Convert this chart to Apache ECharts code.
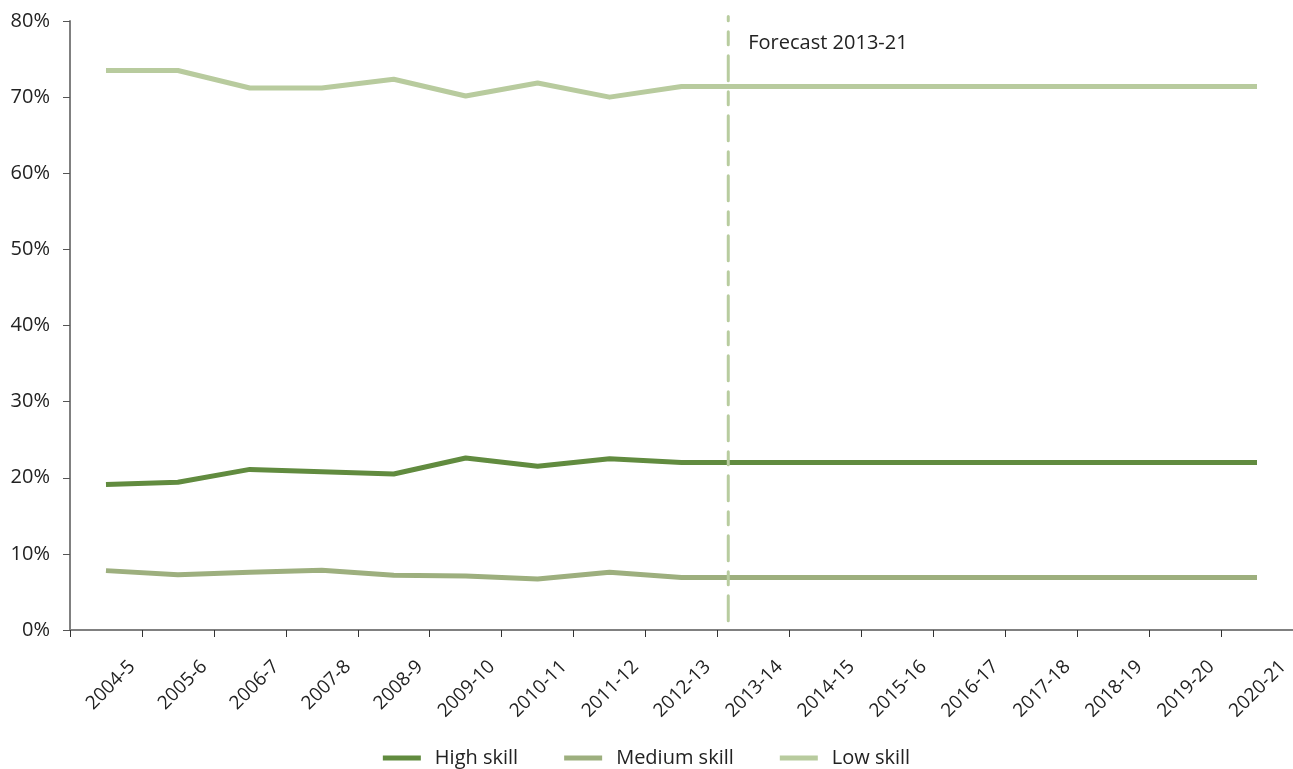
<!DOCTYPE html>
<html>
<head>
<meta charset="utf-8">
<script src="https://cdn.jsdelivr.net/npm/echarts@6/dist/echarts.min.js"></script>
<style>
  html, body { margin: 0; padding: 0; background: #ffffff; }
  #chart { width: 1293px; height: 769px; }
</style>
</head>
<body>
<div id="chart"></div>
<script>
// Share of employment by skill level, actuals to 2012-13 then forecast
const categories = ['2004-5', '2005-6', '2006-7', '2007-8', '2008-9', '2009-10', '2010-11', '2011-12',
  '2012-13', '2013-14', '2014-15', '2015-16', '2016-17', '2017-18', '2018-19', '2019-20', '2020-21'];
const highSkill = [19.1, 19.4, 21.1, 20.8, 20.5, 22.6, 21.5, 22.5,
  22.0, 22.0, 22.0, 22.0, 22.0, 22.0, 22.0, 22.0, 22.0];
const mediumSkill = [7.8, 7.25, 7.6, 7.85, 7.2, 7.1, 6.7, 7.6,
  6.9, 6.9, 6.9, 6.9, 6.9, 6.9, 6.9, 6.9, 6.9];
const lowSkill = [73.5, 73.5, 71.2, 71.2, 72.35, 70.15, 71.85, 70.0,
  71.4, 71.4, 71.4, 71.4, 71.4, 71.4, 71.4, 71.4, 71.4];
const yTicks = [0, 10, 20, 30, 40, 50, 60, 70, 80];
const seriesNames = ['High skill', 'Medium skill', 'Low skill'];

// Forecast marker: position in category units and its vertical span (%)
const forecastAt = 8.65;
const forecastSpan = [1.2, 80.6];
const forecastText = 'Forecast 2013-21';

const FONT = '"Open Sans", "Noto Sans", sans-serif';
const COLORS = { high: '#618b3f', medium: '#9daf7e', low: '#b8cb9e', marker: '#b8cc9f' };

const chart = echarts.init(document.getElementById('chart'), null, { renderer: 'canvas' });

const lineSeries = (name, data, color) => ({
  name, type: 'line', data,
  xAxisIndex: 0, yAxisIndex: 0,
  symbol: 'none', smooth: false,
  lineStyle: { color, width: 5, cap: 'butt', join: 'round' },
  itemStyle: { color },
  z: 3, silent: true
});

chart.setOption({
  animation: false,
  backgroundColor: '#ffffff',
  textStyle: { fontFamily: FONT },
  grid: { left: 70, right: 0, top: 21, bottom: 139, containLabel: false },
  legend: {
    data: seriesNames,
    left: 'center', top: 743,
    icon: 'rect', itemWidth: 38, itemHeight: 5, itemGap: 46,
    textStyle: { fontFamily: FONT, fontSize: 20, color: '#222222', padding: [0, 0, 0, 9] },
    selectedMode: false
  },
  xAxis: [{
    type: 'category',
    data: categories,
    boundaryGap: true,
    axisLine: { show: true, onZero: false, lineStyle: { color: '#808080', width: 2 } },
    axisTick: { show: true, length: 7, interval: 0, lineStyle: { color: '#333333', width: 1 } },
    axisLabel: {
      interval: 0, rotate: 45, margin: 60,
      padding: [0, -37, 0, 0],
      fontFamily: FONT, fontSize: 19, color: '#222222'
    },
    splitLine: { show: false }
  }, {
    // hidden value axis in category units, for the forecast marker
    type: 'value', show: false,
    min: -0.5, max: categories.length - 0.5
  }],
  yAxis: [{
    type: 'value',
    min: yTicks[0], max: yTicks[yTicks.length - 1], interval: 10,
    axisLine: { show: true, onZero: false, lineStyle: { color: '#808080', width: 2 } },
    axisTick: { show: true, length: 7, lineStyle: { color: '#555555', width: 1 } },
    axisLabel: { margin: 20, fontFamily: FONT, fontSize: 20, color: '#222222', formatter: '{value}%' },
    splitLine: { show: false }
  }],
  series: [
    lineSeries(seriesNames[2], lowSkill, COLORS.low),
    lineSeries(seriesNames[0], highSkill, COLORS.high),
    lineSeries(seriesNames[1], mediumSkill, COLORS.medium),
    {
      name: 'forecast', type: 'line',
      xAxisIndex: 1, yAxisIndex: 0,
      clip: false, silent: true, z: 4,
      symbol: 'circle', symbolSize: 0, showSymbol: true,
      lineStyle: { color: COLORS.marker, width: 3, type: [25, 11, 13, 11], cap: 'round' },
      itemStyle: { color: COLORS.marker },
      data: [
        [forecastAt, forecastSpan[0]],
        {
          value: [forecastAt, forecastSpan[1]],
          label: {
            show: true, formatter: forecastText, position: 'right', distance: 20,
            offset: [0, 27], fontFamily: FONT, fontSize: 20, color: '#222222'
          }
        }
      ]
    }
  ]
});
</script>
</body>
</html>
